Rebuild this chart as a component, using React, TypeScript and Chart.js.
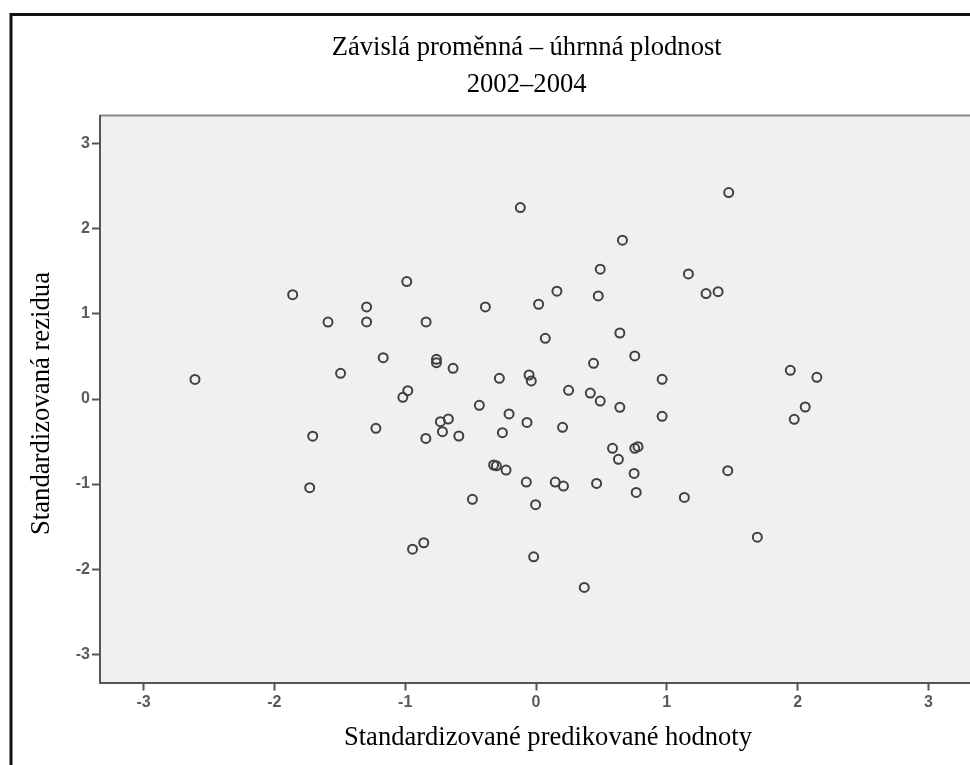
import React, { useEffect, useRef } from "react";
import { Chart, registerables } from "chart.js";

Chart.register(...registerables);

const chartTitle = ["Závislá proměnná – úhrnná plodnost", "2002–2004"];
const xAxisTitle = "Standardizované predikované hodnoty";
const yAxisTitle = "Standardizovaná rezidua";
const xTicks = [-3, -2, -1, 0, 1, 2, 3];
const yTicks = [-3, -2, -1, 0, 1, 2, 3];

const predicted = [
  -2.607, -1.86, -1.59, -1.707, -1.73, -1.494, -1.295, -1.295, -1.224, -1.168,
  -0.988, -0.98, -1.018, -0.944, -0.858, -0.842, -0.84, -0.761, -0.761, -0.731,
  -0.715, -0.67, -0.634, -0.59, -0.486, -0.433, -0.387, -0.324, -0.303, -0.28,
  -0.257, -0.229, -0.206, -0.12, -0.074, -0.069, -0.053, -0.036, -0.018, -0.003,
  0.02, 0.071, 0.147, 0.16, 0.203, 0.21, 0.249, 0.369, 0.415, 0.44,
  0.463, 0.476, 0.491, 0.491, 0.585, 0.63, 0.641, 0.641, 0.661, 0.755,
  0.755, 0.78, 0.75, 0.766, 0.964, 0.964, 1.134, 1.165, 1.3, 1.392,
  1.466, 1.473, 1.692, 1.944, 1.974, 2.058, 2.147,
];
const residuals = [
  0.23, 1.227, 0.904, -0.437, -1.043, 0.302, 1.082, 0.906, -0.345, 0.486,
  1.38, 0.098, 0.02, -1.765, -1.69, -0.463, 0.906, 0.467, 0.427, -0.267,
  -0.384, -0.235, 0.361, -0.435, -1.18, -0.074, 1.082, -0.776, -0.785, 0.243,
  -0.396, -0.835, -0.176, 2.25, -0.976, -0.275, 0.282, 0.212, -1.855, -1.243,
  1.114, 0.714, -0.976, 1.267, -0.333, -1.024, 0.102, -2.215, 0.07, 0.42,
  -0.992, 1.212, 1.526, -0.024, -0.58, -0.709, 0.776, -0.098, 1.867, 0.506,
  -0.58, -0.56, -0.875, -1.098, 0.232, -0.204, -1.157, 1.47, 1.239, 1.262,
  -0.843, 2.427, -1.624, 0.337, -0.239, -0.094, 0.255,
];

const AXIS_MIN = -3.333;
const AXIS_MAX = 3.333;

function drawScaledText(
  ctx: CanvasRenderingContext2D,
  text: string,
  x: number,
  y: number,
  targetWidth: number,
  font: string,
  rotate = 0
) {
  ctx.save();
  ctx.font = font;
  const w = ctx.measureText(text).width;
  const s = targetWidth / w;
  ctx.translate(x, y);
  if (rotate) ctx.rotate(rotate);
  ctx.scale(s, 1);
  ctx.textAlign = "center";
  ctx.textBaseline = "alphabetic";
  ctx.fillStyle = "#000";
  ctx.fillText(text, 0, 0);
  ctx.restore();
}

const decorPlugin = {
  id: "decor",
  beforeDraw(chart: any) {
    const { ctx, chartArea } = chart;
    ctx.save();
    ctx.fillStyle = "#ffffff";
    ctx.fillRect(0, 0, chart.width, chart.height);
    // outer frame
    ctx.strokeStyle = "#111";
    ctx.lineWidth = 3;
    ctx.strokeRect(11, 14.5, chart.width + 20, chart.height + 20);
    // plot background
    ctx.fillStyle = "#f0f0f0";
    ctx.fillRect(
      chartArea.left,
      chartArea.top,
      chartArea.right - chartArea.left,
      chartArea.bottom - chartArea.top
    );
    // top border of plot area
    ctx.strokeStyle = "#8a8a8a";
    ctx.lineWidth = 2;
    ctx.beginPath();
    ctx.moveTo(chartArea.left, chartArea.top);
    ctx.lineTo(chartArea.right, chartArea.top);
    ctx.stroke();
    ctx.restore();
  },
  afterDraw(chart: any) {
    const { ctx } = chart;
    const serif = "27px 'Liberation Serif', 'Times New Roman', serif";
    drawScaledText(ctx, chartTitle[0], 526.7, 55, 390, serif);
    drawScaledText(ctx, chartTitle[1], 526.7, 92, 120, serif);
    drawScaledText(ctx, xAxisTitle, 548, 745, 408, serif);
    drawScaledText(ctx, yAxisTitle, 49, 403.5, 263, serif, -Math.PI / 2);
  },
};

export default function App() {
  const canvasRef = useRef<HTMLCanvasElement | null>(null);

  useEffect(() => {
    if (!canvasRef.current) return;
    const points = predicted.map((x, i) => ({ x, y: residuals[i] }));
    const tickFont = {
      family: "'Liberation Sans', Arial, sans-serif",
      size: 16,
      weight: "bold" as const,
    };
    const chart = new Chart(canvasRef.current, {
      type: "scatter",
      data: {
        datasets: [
          {
            data: points,
            pointStyle: "circle",
            pointRadius: 4.5,
            pointBorderWidth: 2,
            borderColor: "#404040",
            backgroundColor: "rgba(0,0,0,0)",
          },
        ],
      },
      options: {
        animation: false,
        responsive: false,
        devicePixelRatio: 1,
        layout: { padding: { left: 0, right: 8, top: 115.5, bottom: 0 } },
        plugins: {
          legend: { display: false },
          title: { display: false },
          tooltip: { enabled: false },
        },
        scales: {
          x: {
            type: "linear",
            min: AXIS_MIN,
            max: AXIS_MAX,
            afterBuildTicks: (scale: any) => {
              scale.ticks = xTicks.map((v) => ({ value: v }));
            },
            afterFit: (scale: any) => {
              scale.height = 82.5;
            },
            border: { display: true, color: "#555", width: 2 },
            grid: {
              display: true,
              drawOnChartArea: false,
              drawTicks: true,
              tickLength: 8,
              tickColor: "#555",
              tickWidth: 2,
            },
            ticks: {
              color: "#5a5a5a",
              font: tickFont,
              padding: 2,
              maxRotation: 0,
              autoSkip: false,
              callback: (v: any) => String(v),
            },
          },
          y: {
            type: "linear",
            min: AXIS_MIN,
            max: AXIS_MAX,
            afterBuildTicks: (scale: any) => {
              scale.ticks = yTicks.map((v) => ({ value: v }));
            },
            afterFit: (scale: any) => {
              scale.width = 100;
            },
            border: { display: true, color: "#555", width: 2 },
            grid: {
              display: true,
              drawOnChartArea: false,
              drawTicks: true,
              tickLength: 8,
              tickColor: "#555",
              tickWidth: 2,
            },
            ticks: {
              color: "#5a5a5a",
              font: tickFont,
              padding: 2,
              autoSkip: false,
              callback: (v: any) => String(v),
            },
          },
        },
      },
      plugins: [decorPlugin],
    });
    return () => chart.destroy();
  }, []);

  return (
    <div
      style={{
        position: "fixed",
        left: 0,
        top: 0,
        width: 970,
        height: 765,
        overflow: "hidden",
        background: "#fff",
      }}
    >
      <canvas
        ref={canvasRef}
        width={980}
        height={765}
        style={{ display: "block", width: 980, height: 765 }}
      />
    </div>
  );
}
